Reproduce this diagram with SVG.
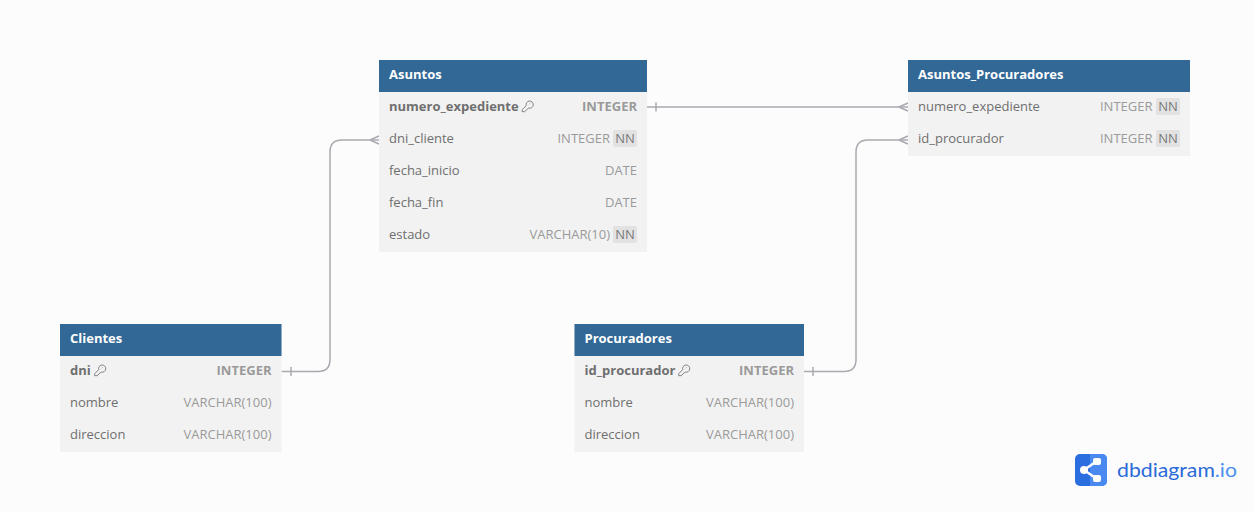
<svg xmlns="http://www.w3.org/2000/svg" width="1254" height="512" viewBox="0 0 1254 512">
<style>
text{font-family:"Open Sans","Noto Sans",sans-serif;font-size:13px}
.body{fill:#f2f2f2}
.head{fill:#316896}
.title{fill:#fff;font-weight:700}
.name{fill:#6f6f6f}
.pk{fill:#6f6f6f;font-weight:700}
.type{fill:#9a9a9a;text-anchor:end}
.typek{fill:#9a9a9a;font-weight:700;text-anchor:end}
.nnb{fill:#e2e2e2}
.nn{fill:#7a7a7a;text-anchor:middle}
.conn{fill:none;stroke:#a9a9b0;stroke-width:1.5}
.key{fill:none;stroke:#777;stroke-width:.9}
</style>
<defs>
<g id="keyicon"><path class="key" d="M-5.300 5.200 L-5.300 3.200 L-1.300 -0.800 A3.600 3.600 0 1 1 1.100 1.600 L-2.900 5.200 Z M1.800 -2.300 L2.400 -2.900"/></g>
</defs>
<rect width="1254" height="512" fill="#fcfcfc"/>
<g id="connectors">
<path class="conn" d="M647 107H908"/><path class="conn" d="M656 102.500V111.500M899 107L908 103M899 107L908 111"/>
<path class="conn" d="M281.500 371.500H318Q330 371.500 330 359.500V152Q330 140 342 140H379"/><path class="conn" d="M291 367V376M370 140L379 136M370 140L379 144"/>
<path class="conn" d="M804 371.500H844Q856 371.500 856 359.500V152Q856 140 868 140H908"/><path class="conn" d="M813 367V376M899 140L908 136M899 140L908 144"/>
</g>
<g id="Asuntos">
<rect class="body" x="379" y="60" width="268" height="192"/><rect class="head" x="379" y="60" width="268" height="32"/>
<text class="title" x="389" y="79">Asuntos</text>
<text class="pk" x="389" y="111">numero_expediente</text><use href="#keyicon" x="527.500" y="106.500"/><text class="typek" x="637" y="111">INTEGER</text>
<text class="name" x="389" y="143">dni_cliente</text><text class="type" x="610" y="143">INTEGER</text><rect class="nnb" x="613" y="130" width="24" height="17" rx="2"/><text class="nn" x="625" y="143">NN</text>
<text class="name" x="389" y="175">fecha_inicio</text><text class="type" x="637" y="175">DATE</text>
<text class="name" x="389" y="207">fecha_fin</text><text class="type" x="637" y="207">DATE</text>
<text class="name" x="389" y="239">estado</text><text class="type" x="610" y="239">VARCHAR(10)</text><rect class="nnb" x="613" y="226" width="24" height="17" rx="2"/><text class="nn" x="625" y="239">NN</text>
</g>
<g id="Asuntos_Procuradores">
<rect class="body" x="908" y="60" width="282" height="96"/><rect class="head" x="908" y="60" width="282" height="32"/>
<text class="title" x="918" y="79">Asuntos_Procuradores</text>
<text class="name" x="918" y="111">numero_expediente</text><text class="type" x="1152.500" y="111">INTEGER</text><rect class="nnb" x="1156" y="98" width="24" height="17" rx="2"/><text class="nn" x="1168" y="111">NN</text>
<text class="name" x="918" y="143">id_procurador</text><text class="type" x="1152.500" y="143">INTEGER</text><rect class="nnb" x="1156" y="130" width="24" height="17" rx="2"/><text class="nn" x="1168" y="143">NN</text>
</g>
<g id="Clientes">
<rect class="body" x="60" y="324" width="221.500" height="128"/><rect class="head" x="60" y="324" width="221.500" height="32"/>
<text class="title" x="70" y="343">Clientes</text>
<text class="pk" x="70" y="375">dni</text><use href="#keyicon" x="100" y="370.500"/><text class="typek" x="271.500" y="375">INTEGER</text>
<text class="name" x="70" y="407">nombre</text><text class="type" x="271.500" y="407">VARCHAR(100)</text>
<text class="name" x="70" y="439">direccion</text><text class="type" x="271.500" y="439">VARCHAR(100)</text>
</g>
<g id="Procuradores">
<rect class="body" x="574.500" y="324" width="229.500" height="128"/><rect class="head" x="574.500" y="324" width="229.500" height="32"/>
<text class="title" x="584.500" y="343">Procuradores</text>
<text class="pk" x="584.500" y="375">id_procurador</text><use href="#keyicon" x="684" y="370.500"/><text class="typek" x="794" y="375">INTEGER</text>
<text class="name" x="584.500" y="407">nombre</text><text class="type" x="794" y="407">VARCHAR(100)</text>
<text class="name" x="584.500" y="439">direccion</text><text class="type" x="794" y="439">VARCHAR(100)</text>
</g>
<g id="logo">
<rect x="1075" y="454" width="32" height="32" rx="5" fill="#2a6ee0"/>
<path d="M1090 454H1102a5 5 0 0 1 5 5V481a5 5 0 0 1-5 5H1090Z" fill="#4a8af0"/>
<path d="M1084 470L1097 461M1084 470L1097 479" stroke="#fff" stroke-width="2.500" fill="none"/>
<circle cx="1084" cy="470" r="4" fill="#fff"/><rect x="1093" y="458" width="8" height="7" rx="2" fill="#fff"/><rect x="1093" y="475" width="8" height="7" rx="2" fill="#fff"/>
<text x="1117" y="477" style="font-size:20px;font-family:Lato,sans-serif" textLength="120" lengthAdjust="spacingAndGlyphs" fill="#2a6ad8">dbdiagram<tspan fill="#4a8ff0">.io</tspan></text>
</g>
</svg>
